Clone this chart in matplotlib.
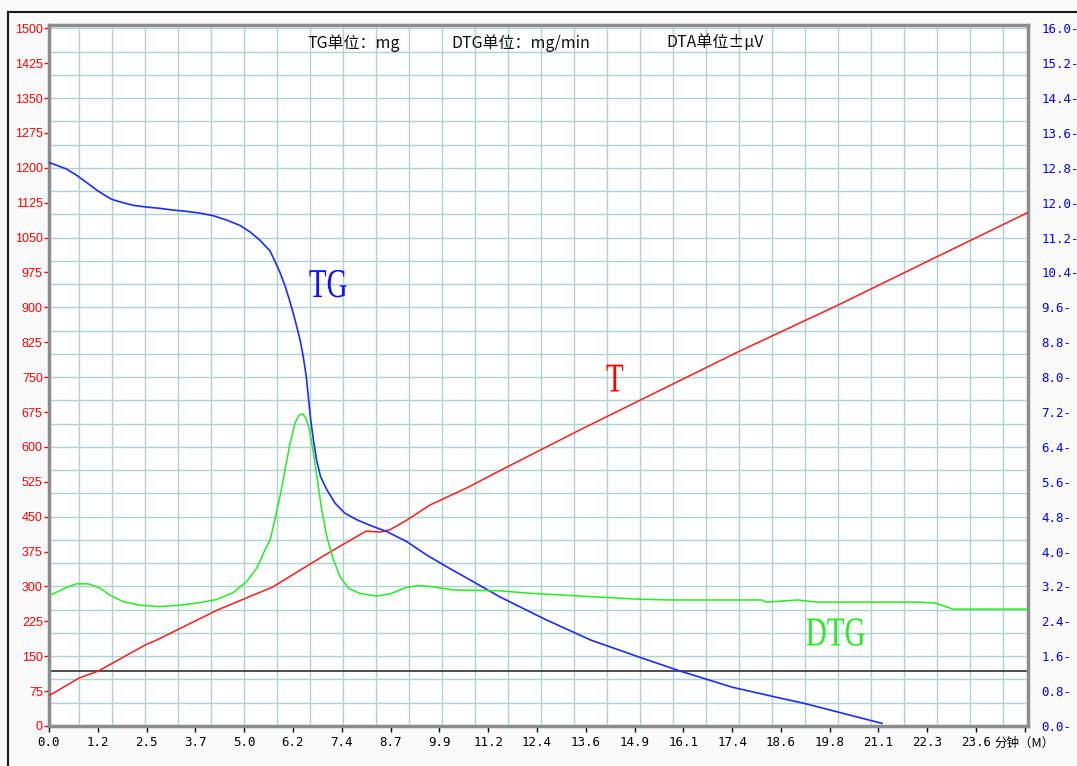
import numpy as np
import matplotlib
matplotlib.use('Agg')
import matplotlib.pyplot as plt
from matplotlib.lines import Line2D
from matplotlib.patches import PathPatch
from matplotlib.textpath import TextPath
from matplotlib.font_manager import FontProperties
from matplotlib.transforms import Affine2D, ScaledTranslation

# 时间 (min) 与温度 T (左轴, ℃)
t_time = [0.0, 0.10, 0.76, 1.25, 2.44, 2.74, 4.27, 5.69, 6.38, 7.14, 8.06, 8.41,
          8.67, 9.10, 9.68, 10.62, 11.46, 13.55, 17.48, 20.03, 22.57, 24.88]
t_val = [66, 70, 103, 118, 174, 185, 249, 299, 335, 374, 419, 417,
         422, 443, 475, 512, 549, 639, 803, 904, 1009, 1104]

# TG 曲线 (右轴, mg)
tg_time = [0.0, 0.13, 0.45, 0.70, 0.96, 1.21, 1.47, 1.59, 1.80, 2.14, 2.48, 2.82,
           3.16, 3.50, 3.84, 4.18, 4.52, 4.85, 5.11, 5.36, 5.62, 5.74, 5.87, 6.00,
           6.12, 6.25, 6.38, 6.46, 6.54, 6.59, 6.65, 6.72, 6.80, 6.90, 7.06, 7.27,
           7.52, 7.82, 8.16, 8.58, 9.09, 9.60, 10.11, 10.78, 11.46, 12.6, 13.77, 15.0,
           16.04, 17.36, 18.58, 19.19, 21.17]
tg_val = [12.92, 12.88, 12.77, 12.63, 12.46, 12.29, 12.14, 12.08, 12.02, 11.94, 11.90, 11.87,
          11.83, 11.80, 11.76, 11.70, 11.60, 11.48, 11.33, 11.14, 10.89, 10.66, 10.40, 10.09,
          9.74, 9.32, 8.86, 8.48, 8.00, 7.55, 7.02, 6.56, 6.10, 5.72, 5.42, 5.11,
          4.88, 4.73, 4.60, 4.46, 4.23, 3.92, 3.65, 3.31, 2.96, 2.45, 1.97, 1.58,
          1.26, 0.89, 0.64, 0.52, 0.06]

# DTG 曲线 (右轴, mg/min)
dtg_time = [0.0, 0.13, 0.45, 0.70, 1.0, 1.30, 1.55, 1.89, 2.31, 2.82, 3.33, 3.84,
            4.26, 4.68, 5.02, 5.28, 5.49, 5.62, 5.74, 5.87, 6.00, 6.12, 6.25, 6.36,
            6.45, 6.53, 6.62, 6.72, 6.82, 6.93, 7.06, 7.23, 7.40, 7.61, 7.90, 8.33,
            8.67, 9.09, 9.43, 9.77, 10.27, 11.46, 12.12, 13.49, 14.94, 15.76, 18.12, 18.22,
            19.03, 19.52, 22.11, 22.52, 22.97, 24.88]
dtg_val = [3.00, 3.04, 3.18, 3.26, 3.26, 3.16, 3.00, 2.85, 2.77, 2.74, 2.77, 2.83,
           2.90, 3.06, 3.31, 3.62, 4.04, 4.27, 4.73, 5.26, 5.88, 6.45, 6.95, 7.13,
           7.16, 7.06, 6.79, 6.26, 5.65, 4.96, 4.34, 3.81, 3.42, 3.16, 3.04, 2.98,
           3.03, 3.18, 3.22, 3.19, 3.12, 3.10, 3.05, 2.98, 2.91, 2.89, 2.89, 2.84,
           2.89, 2.84, 2.84, 2.82, 2.68, 2.68]

baseline = 118  # 黑色水平线 (左轴)

left_ticks = list(range(0, 1501, 75))
right_ticks = [round(0.8 * i, 1) for i in range(21)]
x_ticks = [round(1.24 * i, 2) for i in range(21)]
x_labels = ['%.1f' % v for v in x_ticks[:-1]] + ['分钟（M）']

header = [('TG单位：mg', 307), ('DTG单位：mg/min', 451), ('DTA单位±μV', 666)]

W, H = 1077, 766
fig = plt.figure(figsize=(W / 100, H / 100), dpi=100, facecolor='#fafafa')
ax = fig.add_axes([49 / W, 40 / H, (1028 - 49) / W, (726 - 25) / H])
ax.set_facecolor('#fefefe')
ax.set_xlim(0, 24.88)
ax.set_ylim(0, 1507)

# 网格
grid_c = '#aed2d2'
ax.vlines(np.arange(0.76, 24.5, 0.8383), 0, 1507, color=grid_c, lw=1.0, zorder=0)
ax.hlines(np.arange(50, 1501, 50), 0, 24.88, color=grid_c, lw=1.0, zorder=0)

ax.plot(t_time, t_val, color='#ff1a1a', lw=1.1, zorder=3)
ax.axhline(baseline, color='#202020', lw=1.1, zorder=2)

ax2 = ax.twinx()
ax2.set_ylim(0, 1507 * 16 / 1500)
ax2.plot(tg_time, tg_val, color='#1a2cff', lw=1.2, zorder=3)
ax2.plot(dtg_time, dtg_val, color='#22ee22', lw=1.1, zorder=3)

for s in ax.spines.values():
    s.set_color('#8c8c8c')
    s.set_linewidth(2.5)
for s in ax2.spines.values():
    s.set_visible(False)

ax.set_yticks(left_ticks)
ax.set_yticklabels([str(v) for v in left_ticks])
ax.tick_params(axis='y', colors='#ff0000', length=3.5, width=1, pad=1, labelsize=9)
for lb in ax.get_yticklabels():
    lb.set_fontfamily('Liberation Sans')

ax2.set_yticks(right_ticks)
ax2.set_yticklabels(['%.1f-' % v for v in right_ticks])
ax2.tick_params(axis='y', colors='#0000ff', length=0, pad=9.5, labelsize=9)
for lb in ax2.get_yticklabels():
    lb.set_fontfamily('DejaVu Sans Mono')

ax.set_xticks(x_ticks)
ax.set_xticklabels(x_labels)
ax.tick_params(axis='x', colors='black', length=4.5, width=1, pad=3, labelsize=9)
for lb in ax.get_xticklabels():
    lb.set_fontfamily('DejaVu Sans Mono')
ax.get_xticklabels()[-1].set_fontfamily(['Noto Sans CJK SC', 'DejaVu Sans'])


def tall_label(axis, s, x, y, color):
    # 纵向拉长的衬线字，中心放在 (x, y)
    tp = TextPath((0, 0), s, size=1, prop=FontProperties(family='Liberation Serif'))
    bb = tp.get_extents()
    tr = (Affine2D().translate(-(bb.x0 + bb.x1) / 2, -(bb.y0 + bb.y1) / 2).scale(29, 41)
          + ScaledTranslation(x, y, axis.transData))
    axis.add_artist(PathPatch(tp, transform=tr, facecolor=color, edgecolor='none', zorder=4))


tall_label(ax, 'TG', 7.09, 951, '#1010ff')
tall_label(ax, 'T', 14.38, 748, '#ff0000')
tall_label(ax, 'DTG', 19.99, 202, '#22ee22')

for s, px in header:
    fig.text(px / W, 1 - 43 / H, s, ha='left', va='center', fontsize=11.5,
             family=['Noto Sans CJK SC', 'DejaVu Sans'], color='#111111')

# 外框
fig.add_artist(Line2D([8 / W, 1], [1 - 12 / H] * 2, transform=fig.transFigure,
                      color='#1a1a1a', lw=1.5))
fig.add_artist(Line2D([8 / W, 8 / W], [0, 1 - 12 / H], transform=fig.transFigure,
                      color='#1a1a1a', lw=1.5))

fig.savefig('out.png', dpi=100, facecolor=fig.get_facecolor())
